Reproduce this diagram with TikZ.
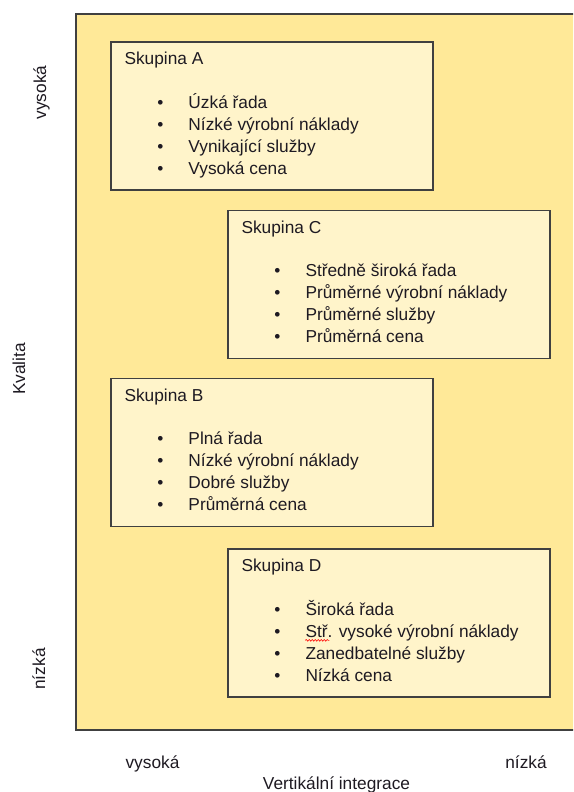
\documentclass[tikz,border=0pt]{standalone}
\usepackage{fontspec}
\setmainfont{Liberation Sans}
\usetikzlibrary{decorations.pathmorphing}
\definecolor{outerfill}{HTML}{FFE998}
\definecolor{innerfill}{HTML}{FFF4CA}
\definecolor{edgegray}{HTML}{404040}
\definecolor{inktext}{HTML}{1E1A22}
\begin{document}
\begin{tikzpicture}[x=1pt,y=-1pt,
    every node/.style={font=\fontsize{17.3}{20}\selectfont, text=inktext},
    grp/.style={draw=edgegray, fill=innerfill, line width=1.4pt,
      minimum width=322pt, minimum height=148pt, inner sep=0pt},
    grptitle/.style={anchor=base west, inner sep=0pt},
    grpitem/.style={anchor=base west, inner sep=0pt},
    axlabel/.style={anchor=base, inner sep=0pt}]
  \useasboundingbox (0,0) rectangle (573,792);
  \clip (0,0) rectangle (573,792);
  % outer field
  \draw[draw=edgegray, fill=outerfill, line width=1.4pt] (76,14) rectangle (600,730);
  % axis labels
  \node[axlabel, rotate=90] (qhigh) at (46,92.5) {vysoká};
  \node[axlabel, rotate=90] (qname) at (25,369) {Kvalita};
  \node[axlabel, rotate=90] (qlow) at (45,669) {nízká};
  \node[axlabel] (vhigh) at (152.5,768) {vysoká};
  \node[axlabel] (vlow) at (526,768) {nízká};
  \node[axlabel] (vname) at (336.5,789) {Vertikální integrace};
  % groups
  \node[grp] (grpA) at (272,116) {};
  \node[grp] (grpC) at (389,284.5) {};
  \node[grp] (grpB) at (272,452.5) {};
  \node[grp] (grpD) at (389,623) {};
  \node[grptitle] (titA) at ([shift={(14,23.5)}]grpA.north west) {Skupina A};
  \node[grptitle] (titC) at ([shift={(14,23.5)}]grpC.north west) {Skupina C};
  \node[grptitle] (titB) at ([shift={(14,23.5)}]grpB.north west) {Skupina B};
  \node[grptitle] (titD) at ([shift={(14,23.5)}]grpD.north west) {Skupina D};
  \foreach \g/\items in {A/{Úzká řada, Nízké výrobní náklady, Vynikající služby, Vysoká cena},
                          C/{Středně široká řada, Průměrné výrobní náklady, Průměrné služby, Průměrná cena},
                          B/{Plná řada, Nízké výrobní náklady, Dobré služby, Průměrná cena},
                          D/{Široká řada, Stř. vysoké výrobní náklady, Zanedbatelné služby, Nízká cena}}
    \foreach \t [count=\i] in \items
      \node[grpitem] (it\g\i) at ([shift={(78,{45+22*\i})}]grp\g.north west)
        {\makebox[0pt][r]{•\hspace{25pt}}\t};
  % spell-check mark
  \draw[red, line width=0.6pt, decorate, decoration={snake, amplitude=0.8pt, segment length=3pt}]
    ([shift={(0,3)}]itD2.base west) -- ([shift={(24,3)}]itD2.base west);
\end{tikzpicture}
\end{document}
